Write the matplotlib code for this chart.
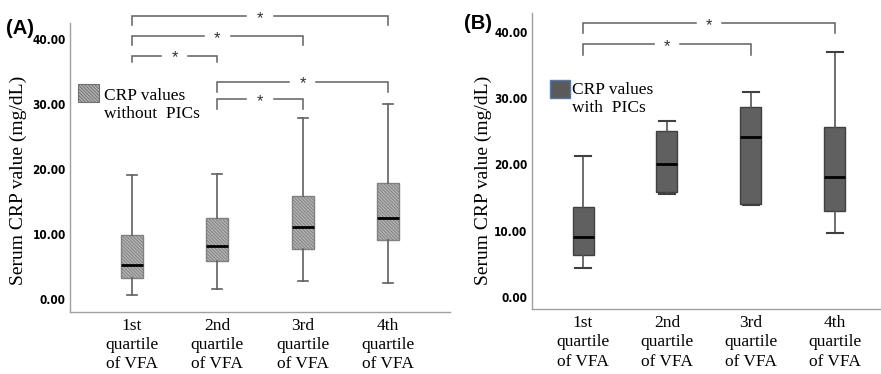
import matplotlib
matplotlib.use('Agg')
import matplotlib.pyplot as plt
from matplotlib import font_manager
from matplotlib.patches import Rectangle

# categories and box statistics
categories = ['1st\nquartile\nof VFA', '2nd\nquartile\nof VFA',
              '3rd\nquartile\nof VFA', '4th\nquartile\nof VFA']
y_ticks = [0, 10, 20, 30, 40]

# panel A: CRP values without PICs
a_low = [0.57, 1.5, 2.8, 2.5]
a_q1 = [3.2, 5.8, 7.7, 9.1]
a_med = [5.25, 8.1, 11.0, 12.5]
a_q3 = [9.8, 12.4, 15.8, 17.9]
a_high = [19.0, 19.3, 27.8, 30.0]

# panel B: CRP values with PICs
b_low = [4.3, 15.6, 13.9, 9.7]
b_q1 = [6.3, 15.8, 14.0, 12.9]
b_med = [9.0, 20.0, 24.2, 18.1]
b_q3 = [13.6, 25.1, 28.7, 25.6]
b_high = [21.2, 26.5, 31.0, 36.9]

# significance brackets: (from, to, bracket height, tick end)
a_brackets = [(0, 3, 43.5, 42.2), (0, 2, 40.4, 39.0), (0, 1, 37.4, 36.4),
              (1, 3, 33.4, 31.9), (1, 2, 30.7, 29.3)]
b_brackets = [(0, 3, 41.3, 39.8), (0, 2, 38.1, 36.5)]

installed = {f.name for f in font_manager.fontManager.ttflist}
serif = 'Liberation Serif' if 'Liberation Serif' in installed else 'DejaVu Serif'
sans = 'Liberation Sans' if 'Liberation Sans' in installed else 'DejaVu Sans'
if 'Liberation Sans Narrow' in installed:
    narrow = dict(fontfamily='Liberation Sans Narrow')
else:
    narrow = dict(fontfamily='DejaVu Sans', fontstretch='condensed')

plt.rcParams['hatch.color'] = '#4a4a4a'
plt.rcParams['hatch.linewidth'] = 0.7

fig = plt.figure(figsize=(8.81, 3.74), dpi=100)
axA = fig.add_axes([0.0795, 0.1658, 0.4313, 0.7727])
axB = fig.add_axes([0.6035, 0.173, 0.3965, 0.7914])


def make_stats(low, q1, med, q3, high):
    return [dict(whislo=l, q1=a, med=m, q3=b, whishi=h, fliers=[])
            for l, a, m, b, h in zip(low, q1, med, q3, high)]


def style_axes(ax, ylim, xlim, label_y):
    ax.set_ylim(*ylim)
    ax.set_xlim(*xlim)
    for s in ['top', 'right']:
        ax.spines[s].set_visible(False)
    for s in ['left', 'bottom']:
        ax.spines[s].set_color('#a0a0a0')
        ax.spines[s].set_linewidth(1.0)
    ax.set_yticks(y_ticks)
    ax.set_yticklabels(['%.2f' % v for v in y_ticks], fontweight='bold',
                       fontsize=8.5, **narrow)
    ax.set_xticks(range(len(categories)))
    ax.set_xticklabels(categories, fontfamily=serif, fontsize=12.5,
                       linespacing=1.28)
    ax.tick_params(axis='both', length=0)
    ax.tick_params(axis='y', pad=3)
    ax.tick_params(axis='x', pad=4)
    ax.set_ylabel('Serum CRP value (mg/dL)', fontfamily=serif, fontsize=14)
    ax.yaxis.set_label_coords(-0.113, label_y)


def draw_brackets(ax, brackets):
    gap = 0.16
    for i, j, top, tick in brackets:
        mid = (i + j) / 2
        ax.plot([i, i, mid - gap], [tick, top, top], color='#606060', lw=1.1,
                clip_on=False, solid_joinstyle='miter')
        ax.plot([mid + gap, j, j], [top, top, tick], color='#606060', lw=1.1,
                clip_on=False, solid_joinstyle='miter')
        ax.text(mid, top - 0.3, '*', ha='center', va='center', fontsize=12,
                fontfamily=sans, color='#333333', clip_on=False)


# panel A
bpA = axA.bxp(make_stats(a_low, a_q1, a_med, a_q3, a_high),
              positions=range(len(categories)), widths=0.26, capwidths=0.12,
              patch_artist=True, showfliers=False,
              boxprops=dict(facecolor='#b5b5b5', edgecolor='#808080',
                            linewidth=1, hatch='\\\\\\\\\\\\\\\\\\\\'),
              whiskerprops=dict(color='#606060', linewidth=1.2),
              capprops=dict(color='#606060', linewidth=1.2),
              medianprops=dict(color='black', linewidth=2))
style_axes(axA, (-2.0, 42.46), (-0.727, 3.728), 0.457)
draw_brackets(axA, a_brackets)
axA.add_patch(Rectangle((0.020, 0.727), 0.056, 0.062, transform=axA.transAxes,
                        facecolor='#b5b5b5', edgecolor='#707070', lw=0.8,
                        hatch='\\\\\\\\\\\\\\\\\\\\', clip_on=False))
axA.text(0.089, 0.716, 'CRP values\nwithout  PICs', transform=axA.transAxes,
         fontfamily=serif, fontsize=12.5, va='center', ha='left',
         linespacing=1.15)
fig.text(0.007, 0.925, '(A)', fontfamily=sans, fontweight='bold', fontsize=14.5,
         va='center', ha='left')

# panel B
bpB = axB.bxp(make_stats(b_low, b_q1, b_med, b_q3, b_high),
              positions=range(len(categories)), widths=0.25, capwidths=0.2,
              patch_artist=True, showfliers=False,
              boxprops=dict(facecolor='#606060', edgecolor='#404040',
                            linewidth=1),
              whiskerprops=dict(color='#555555', linewidth=1.2),
              capprops=dict(color='#404040', linewidth=1.5),
              medianprops=dict(color='black', linewidth=2))
style_axes(axB, (-1.86, 42.8), (-0.611, 3.548), 0.437)
draw_brackets(axB, b_brackets)
axB.add_patch(Rectangle((0.052, 0.714), 0.059, 0.061, transform=axB.transAxes,
                        facecolor='#5a5a5a', edgecolor='#5577aa', lw=1,
                        clip_on=False))
axB.text(0.115, 0.71, 'CRP values\nwith  PICs', transform=axB.transAxes,
         fontfamily=serif, fontsize=12.5, va='center', ha='left',
         linespacing=1.15)
fig.text(0.527, 0.938, '(B)', fontfamily=sans, fontweight='bold', fontsize=14.5,
         va='center', ha='left')

fig.savefig('out.png', dpi=100)
